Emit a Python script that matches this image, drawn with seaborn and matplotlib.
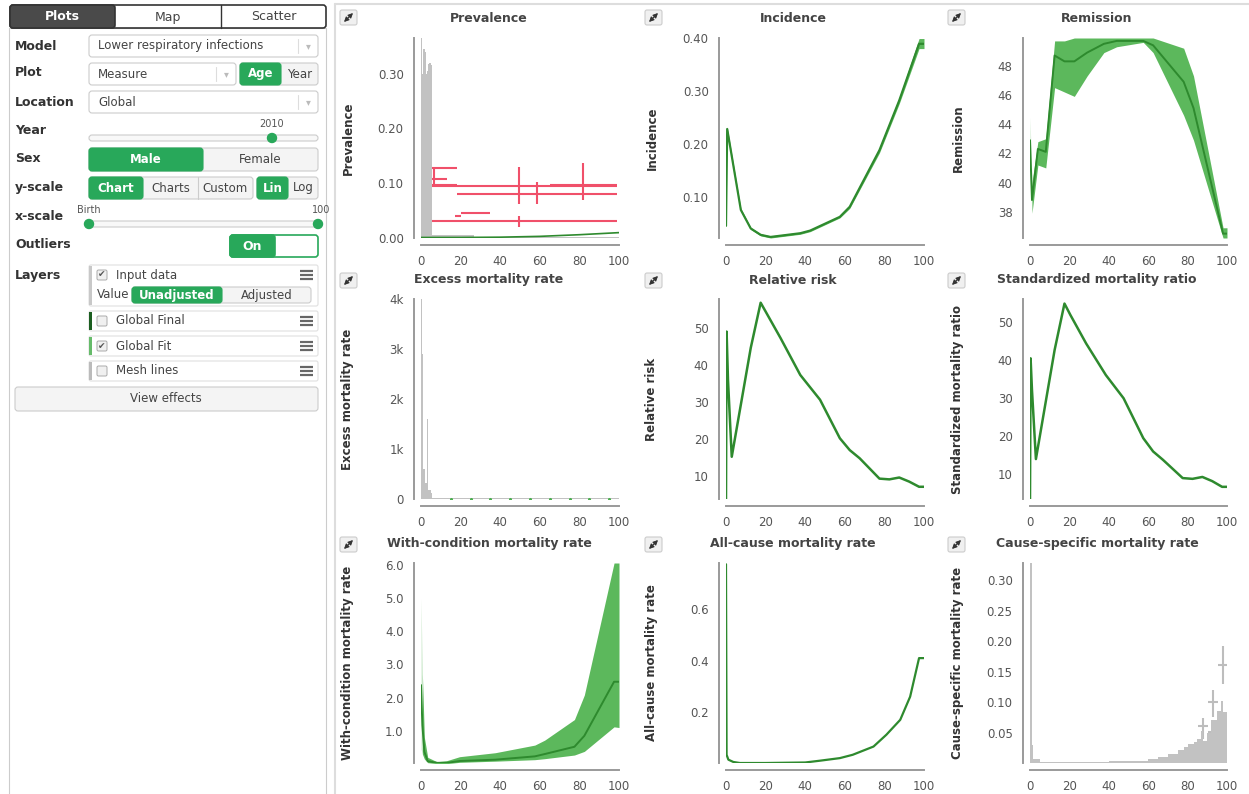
import matplotlib
matplotlib.use("Agg")
import matplotlib.pyplot as plt
from matplotlib.patches import FancyBboxPatch, Rectangle, Circle
import seaborn as sns

sns.set_style("white")
plt.rcParams['font.family'] = ['DejaVu Sans']

# ---------------- datos ----------------
# Prevalence: input data (gris), outliers (rojo), ajuste (verde)
prev_bar_start = [0, 0.6, 1.2, 1.8, 2.4, 3.0, 3.6, 4.2, 4.8, 5.4, 27]
prev_bar_end = [0.6, 1.2, 1.8, 2.4, 3.0, 3.6, 4.2, 4.8, 5.4, 27, 100]
prev_bar_val = [0.365, 0.30, 0.345, 0.34, 0.30, 0.305, 0.318, 0.32, 0.315, 0.006, 0.002]
prev_out_start = [0, 0, 0, 0, 18, 65, 0, 17, 20]
prev_out_end = [18, 13, 18, 99, 99, 99, 99, 20, 35]
prev_out_val = [0.128, 0.107, 0.097, 0.094, 0.081, 0.0976, 0.0315, 0.040, 0.046]
prev_out_lo = [0.128, 0.093, 0.097, 0.0625, 0.0625, 0.069, 0.0205, 0.038, 0.0455]
prev_out_hi = [0.128, 0.128, 0.097, 0.129, 0.103, 0.136, 0.0405, 0.042, 0.0465]
prev_fit_age = [0, 20, 40, 60, 80, 100]
prev_fit_val = [0.001, 0.001, 0.0015, 0.003, 0.006, 0.0098]

# Incidence
inc_age = [0, 0.6, 7.5, 12.5, 17.5, 22.5, 37.5, 42.5, 57.5, 62.5, 77.5, 87.5, 97.5, 100]
inc_val = [0.045, 0.228, 0.075, 0.040, 0.028, 0.024, 0.031, 0.036, 0.062, 0.081, 0.188, 0.282, 0.389, 0.389]
inc_lo = [0.043, 0.224, 0.072, 0.038, 0.026, 0.022, 0.029, 0.034, 0.060, 0.078, 0.183, 0.276, 0.380, 0.380]
inc_hi = [0.047, 0.232, 0.078, 0.042, 0.030, 0.026, 0.033, 0.038, 0.064, 0.084, 0.193, 0.288, 0.399, 0.399]

# Remission
rem_age = [0, 1, 4, 8, 12.5, 17.5, 22.5, 29, 37.5, 44, 57.5, 62.5, 78, 83, 98, 100]
rem_val = [42.9, 38.8, 42.3, 42.1, 48.7, 48.3, 48.3, 48.9, 49.5, 49.7, 49.7, 49.4, 46.9, 45.1, 36.5, 36.5]
rem_lo = [40.5, 37.9, 41.2, 41.0, 46.5, 46.2, 45.9, 47.3, 48.9, 49.3, 49.6, 48.9, 44.6, 42.9, 36.2, 36.2]
rem_hi = [44.5, 40.0, 42.8, 43.0, 49.7, 49.7, 49.9, 49.9, 49.9, 49.9, 49.9, 49.9, 49.2, 47.3, 36.9, 36.9]

# Excess mortality rate
exc_start = [0, 0.4, 1.0, 1.5, 2.0, 3.2, 3.7, 5, 85]
exc_end = [0.6, 1.2, 2.0, 3.0, 5.0, 3.7, 5.5, 85, 100]
exc_val = [4000, 2900, 600, 330, 180, 1600, 120, 15, 30]
exc_fit_age = [15, 25, 35, 45, 55, 65, 75, 85, 95]
exc_fit_val = [6, 6, 6, 6, 6, 6, 6, 6, 6]

# Relative risk
rr_age = [0, 0.3, 1, 2.9, 12.5, 17.5, 27.5, 37.5, 47.5, 57.5, 62.5, 67.5, 77.5, 82.5, 87.5, 92.5, 97.5, 100]
rr_val = [3.7, 49.0, 36.0, 15.2, 44.6, 56.8, 47.3, 37.3, 30.6, 20.2, 17.0, 14.8, 9.3, 9.1, 9.6, 8.5, 7.1, 7.1]

# Standardized mortality ratio
smr_age = [0, 0.3, 1, 3.0, 12.5, 17.5, 20.5, 28.5, 38.5, 47.5, 57.5, 62.5, 67.5, 77.5, 82.5, 87.5, 92.5, 97.5, 100]
smr_val = [3.4, 40.4, 32.1, 13.9, 42.6, 54.8, 51.8, 44.3, 36.0, 29.9, 19.4, 15.9, 13.7, 8.9, 8.7, 9.2, 8.1, 6.6, 6.6]

# With-condition mortality rate
wc_age = [0, 0.7, 1.7, 3.4, 8, 13, 19.5, 37.5, 57.5, 62.5, 77.5, 82.5, 97.5, 100]
wc_val = [2.38, 1.17, 0.37, 0.085, 0.035, 0.035, 0.09, 0.13, 0.23, 0.30, 0.52, 0.85, 2.48, 2.48]
wc_lo = [0.45, 0.30, 0.15, 0.04, 0.01, 0.01, 0.05, 0.085, 0.13, 0.16, 0.27, 0.38, 1.12, 1.10]
wc_hi = [5.0, 2.7, 0.8, 0.20, 0.07, 0.10, 0.22, 0.34, 0.57, 0.72, 1.34, 2.08, 6.06, 6.06]

# All-cause mortality rate
ac_age = [0, 0.3, 1.2, 3.7, 7, 20, 40, 47.5, 57.5, 64, 74.5, 81, 88, 93, 97.5, 100]
ac_val = [0.775, 0.034, 0.015, 0.006, 0.002, 0.002, 0.004, 0.011, 0.021, 0.034, 0.066, 0.112, 0.17, 0.26, 0.41, 0.41]

# Cause-specific mortality rate
csmr_start = [0, 0.8, 1, 5, 20, 40, 50, 60, 65, 70, 75, 78, 80, 83, 85, 87, 88, 90, 92, 95, 97, 98]
csmr_end = [0.8, 1.5, 5, 20, 40, 50, 60, 65, 70, 75, 78, 80, 83, 85, 87, 88, 90, 92, 95, 97, 98, 100]
csmr_val = [0.328, 0.03, 0.006, 0.0015, 0.002, 0.003, 0.004, 0.006, 0.010, 0.014, 0.022, 0.027, 0.031, 0.035, 0.040, 0.052, 0.036, 0.050, 0.070, 0.085, 0.102, 0.084]
csmr_pt_start = [85.4, 90.5, 90.5, 95.6]
csmr_pt_end = [90.5, 95.6, 95.6, 100]
csmr_pt_val = [0.060, 0.100, 0.051, 0.161]
csmr_pt_lo = [0.040, 0.076, 0.043, 0.130]
csmr_pt_hi = [0.073, 0.119, 0.059, 0.192]

x_ticks = [0, 20, 40, 60, 80, 100]

# ---------------- estilo ----------------
W, H = 1249, 794
BTN = '#28a85a'
BAND = '#5cb85c'
LINE = '#2e8a2e'
GRAY = '#c2c2c2'
RED = '#f0506a'
AXC = '#9a9a9a'
TXT = '#333333'

fig = plt.figure(figsize=(W / 100, H / 100), dpi=100)
ui = fig.add_axes([0, 0, 1, 1])
ui.set_xlim(0, W)
ui.set_ylim(H, 0)
ui.axis('off')


def rbox(x0, y0, x1, y1, fc='#f4f4f4', ec='#cccccc', r=3, lw=0.8, z=1):
    p = FancyBboxPatch((x0, y0), x1 - x0, y1 - y0, boxstyle=f"round,pad=0,rounding_size={r}",
                       fc=fc, ec=ec, lw=lw, zorder=z)
    ui.add_patch(p)


def txt(x, y, s, size=8.5, color='#444444', weight='normal', ha='left', **kw):
    ui.text(x, y, s, fontsize=size, color=color, fontweight=weight, ha=ha, va='center', **kw)


def toggle(x0, x1, y0, y1, names, bounds, active):
    rbox(x0, y0, x1, y1)
    for i, n in enumerate(names):
        a, b = bounds[i], bounds[i + 1]
        if i == active:
            rbox(a, y0, b, y1, fc=BTN, ec=BTN, z=2)
            txt((a + b) / 2, (y0 + y1) / 2, n, color='white', weight='bold', ha='center', zorder=3)
        else:
            if i > 0 and i - 1 != active:
                ui.plot([a, a], [y0, y1], color='#cccccc', lw=0.8)
            txt((a + b) / 2, (y0 + y1) / 2, n, color='#444444', ha='center')


# panel izquierdo
ui.add_patch(Rectangle((9, 28), 317, 780, fc='white', ec='#cccccc', lw=0.8))
rbox(10, 5, 326, 28, fc='white', ec='#333333', r=3, lw=1.2)
rbox(10, 5, 115, 28, fc='#4a4a4a', ec='#333333', r=3, lw=1.2, z=2)
ui.plot([221, 221], [5, 28], color='#333333', lw=1)
txt(62, 17, 'Plots', size=9, color='white', weight='bold', ha='center', zorder=3)
txt(168, 17, 'Map', size=9, ha='center')
txt(274, 17, 'Scatter', size=9, ha='center')

labels = ['Model', 'Plot', 'Location', 'Year', 'Sex', 'y-scale', 'x-scale', 'Outliers', 'Layers']
label_y = [46, 73, 102, 131, 159, 187, 216, 245, 276]
for lab, ly in zip(labels, label_y):
    txt(15, ly, lab, size=9, color=TXT, weight='bold')


def dropdown(x0, x1, y0, y1, s):
    rbox(x0, y0, x1, y1, fc='white', ec='#cccccc')
    txt(x0 + 9, (y0 + y1) / 2, s)
    ui.plot([x1 - 20, x1 - 20], [y0 + 4, y1 - 4], color='#dddddd', lw=0.8)
    txt(x1 - 10, (y0 + y1) / 2, '▾', size=7, color='#bbbbbb', ha='center')


dropdown(89, 318, 35, 57, 'Lower respiratory infections')
dropdown(89, 236, 63, 85, 'Measure')
toggle(240, 318, 63, 85, ['Age', 'Year'], [240, 281, 318], 0)
dropdown(89, 318, 91, 113, 'Global')

rbox(89, 135, 318, 141, fc='#f8f8f8', ec='#cccccc', r=3)
ui.add_patch(Circle((272, 138), 4.5, fc=BTN, ec=BTN, zorder=3))
txt(272, 124, '2010', size=7, color='#555555', ha='center')

toggle(89, 318, 148, 171, ['Male', 'Female'], [89, 203, 318], 0)
toggle(89, 253, 177, 199, ['Chart', 'Charts', 'Custom'], [89, 143, 198, 253], 0)
toggle(257, 318, 177, 199, ['Lin', 'Log'], [257, 288, 318], 0)

rbox(89, 221, 318, 227, fc='#f8f8f8', ec='#cccccc', r=3)
ui.add_patch(Circle((89, 224), 4.5, fc=BTN, ec=BTN, zorder=3))
ui.add_patch(Circle((318, 224), 4.5, fc=BTN, ec=BTN, zorder=3))
txt(77, 210, 'Birth', size=7, color='#555555')
txt(321, 210, '100', size=7, color='#555555', ha='center')

rbox(230, 235, 318, 257, fc='white', ec=BTN, lw=1.2)
rbox(230, 235, 275, 257, fc=BTN, ec=BTN, lw=1.2, z=2)
txt(252, 246, 'On', size=9, color='white', weight='bold', ha='center', zorder=3)


def layer(y0, y1, bar, name, checked):
    rbox(89, y0, 318, y1, fc='white', ec='#e0e0e0', r=2)
    ui.add_patch(Rectangle((89, y0 + 1), 3, y1 - y0 - 2, fc=bar, ec='none', zorder=2))
    cy = y0 + 10
    rbox(97, cy - 5, 107, cy + 5, fc='#f0f0f0', ec='#aaaaaa', r=1.5, lw=0.7, z=2)
    if checked:
        txt(102, cy, '✔', size=6.5, color='#555555', ha='center', zorder=3)
    txt(116, cy, name)
    for dy in (-4, 0, 4):
        ui.plot([300, 313], [cy + dy, cy + dy], color='#666666', lw=1.6, solid_capstyle='butt')


layer(265, 306, '#c8c8c8', 'Input data', True)
txt(97, 294, 'Value')
toggle(132, 311, 287, 303, ['Unadjusted', 'Adjusted'], [132, 222, 311], 0)
layer(311, 331, '#1b5e20', 'Global Final', False)
layer(336, 356, '#66bb6a', 'Global Fit', True)
layer(361, 381, '#bbbbbb', 'Mesh lines', False)
rbox(15, 387, 318, 411, fc='#f4f4f4', ec='#cccccc')
txt(166, 399, 'View effects', ha='center')

# marco del area de graficos
ui.plot([335, W], [4, 4], color='#dddddd', lw=1.5)
ui.plot([335, 335], [4, H], color='#dddddd', lw=1.5)

# ---------------- graficos ----------------
col_x = [(421, 619), (726, 924), (1030, 1227)]
row_y = [(38, 238), (299, 499), (563, 763)]
col_c = [489, 793, 1097]
col_lab = [348, 652, 958]
row_title = [18, 280, 543]
row_icon = [10, 273, 537]
col_icon = [340, 645, 948]


def panel(r, c, title, ylab, ylim, yticks, ylabels):
    x0, x1 = col_x[c]
    y0, y1 = row_y[r]
    ax = fig.add_axes([x0 / W, 1 - y1 / H, (x1 - x0) / W, (y1 - y0) / H])
    ax.patch.set_alpha(0)
    sns.despine(ax=ax)
    for s in ['left', 'bottom']:
        ax.spines[s].set_position(('outward', 5))
        ax.spines[s].set_color(AXC)
        ax.spines[s].set_linewidth(1.4)
    ax.set_xlim(0, 100)
    ax.set_ylim(*ylim)
    ax.set_xticks(x_ticks, [str(t) for t in x_ticks])
    ax.set_yticks(yticks, ylabels)
    ax.set_yticks(list(ylim), minor=True)
    ax.tick_params(which='both', direction='out', length=4.5, width=1, color=AXC,
                   labelcolor='#555555', labelsize=8.5, pad=3)
    ax.tick_params(axis='y', which='minor', labelleft=False)
    # titulo, etiqueta y boton de expandir
    txt(col_c[c], row_title[r], title, size=9, color='#444444', weight='bold', ha='center')
    txt(col_lab[c], (y0 + y1) / 2, ylab, size=8.5, color=TXT, weight='bold', ha='center',
        rotation=90, rotation_mode='anchor')
    ix, iy = col_icon[c], row_icon[r]
    rbox(ix, iy, ix + 17, iy + 15, fc='#f0f0f0', ec='#cccccc', r=2)
    ui.annotate('', xy=(ix + 13, iy + 3), xytext=(ix + 4, iy + 12),
                arrowprops=dict(arrowstyle='<|-|>,head_length=0.4,head_width=0.2', color='#333333',
                                lw=0.8, mutation_scale=7, shrinkA=0, shrinkB=0))
    return ax


def bars(ax, start, end, val, color=GRAY):
    w = [e - s for s, e in zip(start, end)]
    ax.bar(start, val, width=w, align='edge', color=color, lw=0, zorder=3)


def fit(ax, age, val, lo=None, hi=None, lw=1.6, faint_first=False):
    if lo is not None:
        k = 1 if faint_first else 0
        if faint_first:
            ax.fill_between(age[:2], lo[:2], hi[:2], color=BAND, alpha=0.3, lw=0, zorder=4)
        ax.fill_between(age[k:], lo[k:], hi[k:], color=BAND, lw=0, zorder=4)
    sns.lineplot(x=age, y=val, ax=ax, color=LINE, lw=lw, estimator=None, zorder=5)


def crosses(ax, start, end, val, lo, hi, color):
    mid = [(s + e) / 2 for s, e in zip(start, end)]
    half = [(e - s) / 2 for s, e in zip(start, end)]
    yerr = [[v - l for v, l in zip(val, lo)], [h - v for v, h in zip(val, hi)]]
    ax.errorbar(mid, val, xerr=half, yerr=yerr, fmt='none', ecolor=color, elinewidth=1.5, zorder=2)


# 1. Prevalence
ax = panel(0, 0, 'Prevalence', 'Prevalence', (0, 0.365),
           [0, 0.1, 0.2, 0.3], ['0.00', '0.10', '0.20', '0.30'])
crosses(ax, prev_out_start, prev_out_end, prev_out_val, prev_out_lo, prev_out_hi, RED)
bars(ax, prev_bar_start, prev_bar_end, prev_bar_val)
fit(ax, prev_fit_age, prev_fit_val, lw=1.2)

# 2. Incidence
ax = panel(0, 1, 'Incidence', 'Incidence', (0.022, 0.40),
           [0.1, 0.2, 0.3, 0.4], ['0.10', '0.20', '0.30', '0.40'])
fit(ax, inc_age, inc_val, inc_lo, inc_hi)

# 3. Remission
ax = panel(0, 2, 'Remission', 'Remission', (36.2, 49.9),
           [38, 40, 42, 44, 46, 48], ['38', '40', '42', '44', '46', '48'])
fit(ax, rem_age, rem_val, rem_lo, rem_hi, lw=1.4, faint_first=True)

# 4. Excess mortality rate
ax = panel(1, 0, 'Excess mortality rate', 'Excess mortality rate', (0, 4000),
           [0, 1000, 2000, 3000, 4000], ['0', '1k', '2k', '3k', '4k'])
bars(ax, exc_start, exc_end, exc_val)
sns.scatterplot(x=exc_fit_age, y=exc_fit_val, ax=ax, color='#4caf50', s=5, lw=0, zorder=5)

# 5. Relative risk
ax = panel(1, 1, 'Relative risk', 'Relative risk', (3.8, 57.8),
           [10, 20, 30, 40, 50], ['10', '20', '30', '40', '50'])
fit(ax, rr_age, rr_val, lw=1.8)

# 6. Standardized mortality ratio
ax = panel(1, 2, 'Standardized mortality ratio', 'Standardized mortality ratio', (3.4, 56),
           [10, 20, 30, 40, 50], ['10', '20', '30', '40', '50'])
fit(ax, smr_age, smr_val, lw=1.8)

# 7. With-condition mortality rate
ax = panel(2, 0, 'With-condition mortality rate', 'With-condition mortality rate', (0.03, 6.06),
           [1, 2, 3, 4, 5, 6], ['1.0', '2.0', '3.0', '4.0', '5.0', '6.0'])
fit(ax, wc_age, wc_val, wc_lo, wc_hi, lw=1.4, faint_first=True)

# 8. All-cause mortality rate
ax = panel(2, 1, 'All-cause mortality rate', 'All-cause mortality rate', (0.002, 0.78),
           [0.2, 0.4, 0.6], ['0.2', '0.4', '0.6'])
fit(ax, ac_age, ac_val, lw=1.6)

# 9. Cause-specific mortality rate
ax = panel(2, 2, 'Cause-specific mortality rate', 'Cause-specific mortality rate', (0, 0.328),
           [0.05, 0.1, 0.15, 0.2, 0.25, 0.3], ['0.05', '0.10', '0.15', '0.20', '0.25', '0.30'])
bars(ax, csmr_start, csmr_end, csmr_val)
crosses(ax, csmr_pt_start, csmr_pt_end, csmr_pt_val, csmr_pt_lo, csmr_pt_hi, '#bdbdbd')

fig.savefig("out.png", dpi=100)
